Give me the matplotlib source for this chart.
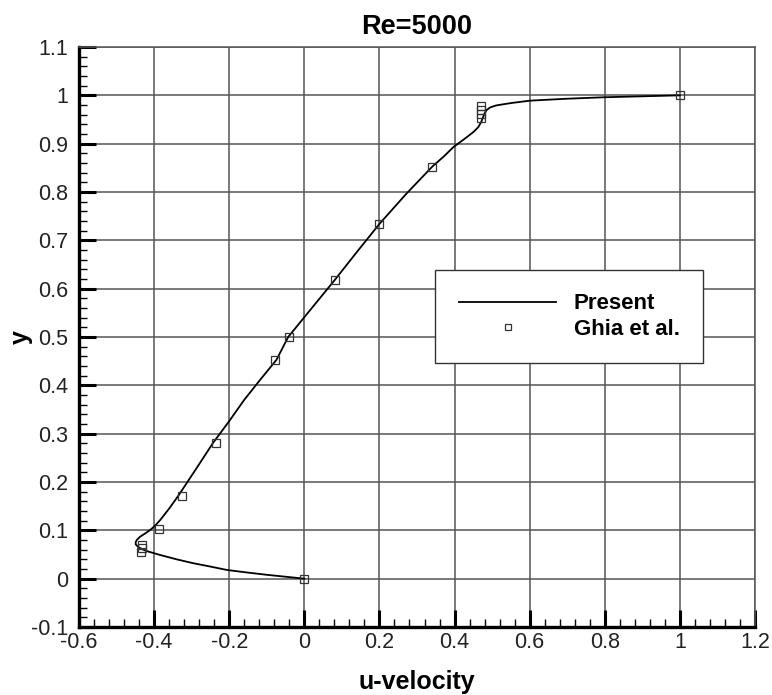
import matplotlib
matplotlib.use("Agg")
import matplotlib.pyplot as plt
from matplotlib.ticker import MultipleLocator, FuncFormatter

plt.rcParams['font.family'] = ['Liberation Sans', 'DejaVu Sans']

# Present solution
present_u = [0.0, -0.05, -0.10, -0.155, -0.206, -0.25, -0.296, -0.34, -0.384, -0.415,
             -0.432, -0.443, -0.449, -0.449, -0.445, -0.437, -0.425, -0.41, -0.397,
             -0.383, -0.36, -0.336, -0.29, -0.243, -0.20, -0.16, -0.117, -0.074, -0.043,
             0.02, 0.08, 0.14, 0.20, 0.27, 0.34, 0.372, 0.397, 0.425, 0.45, 0.463,
             0.471, 0.476, 0.480, 0.486, 0.495, 0.510, 0.55, 0.601, 0.70, 0.798, 0.90, 1.0]
present_y = [0.0, 0.004, 0.008, 0.013, 0.018, 0.025, 0.032, 0.040, 0.049, 0.056,
             0.061, 0.066, 0.071, 0.076, 0.081, 0.087, 0.093, 0.101, 0.110,
             0.122, 0.145, 0.171, 0.225, 0.281, 0.326, 0.37, 0.412, 0.453, 0.50,
             0.56, 0.617, 0.676, 0.734, 0.795, 0.852, 0.874, 0.893, 0.909, 0.924, 0.934,
             0.945, 0.955, 0.963, 0.970, 0.975, 0.979, 0.984, 0.989, 0.993, 0.996, 0.998, 1.0]

# Ghia et al. reference points
ghia_u = [1.0, 0.470, 0.470, 0.470, 0.470, 0.340, 0.200, 0.082, -0.040, -0.077,
          -0.235, -0.326, -0.387, -0.432, -0.432, -0.434, 0.0]
ghia_y = [1.0, 0.977, 0.969, 0.961, 0.953, 0.852, 0.734, 0.617, 0.500, 0.453,
          0.281, 0.172, 0.102, 0.070, 0.063, 0.055, 0.0]

title = "Re=5000"
xlabel = "u-velocity"
ylabel = "y"

fig = plt.figure(figsize=(7.72, 6.95), dpi=100)
ax = fig.add_axes([79/772, 1-627/695, 676/772, 580/695])

ax.plot(present_u, present_y, color='black', lw=1.3, label='Present', zorder=3,
        solid_joinstyle='round')
ax.plot(ghia_u, ghia_y, ls='none', marker='s', ms=5.5, mfc='none', mec='#333333',
        mew=0.9, label='Ghia et al.', zorder=4)

ax.set_xlim(-0.6, 1.2)
ax.set_ylim(-0.1, 1.1)
ax.xaxis.set_major_locator(MultipleLocator(0.2))
ax.xaxis.set_minor_locator(MultipleLocator(0.04))
ax.yaxis.set_major_locator(MultipleLocator(0.1))
ax.yaxis.set_minor_locator(MultipleLocator(0.02))

def fmt(v, pos):
    s = f"{v:.1f}"
    if s in ("0.0", "-0.0"):
        return "0"
    if s.endswith(".0"):
        s = s[:-2]
    return s
ax.xaxis.set_major_formatter(FuncFormatter(fmt))
ax.yaxis.set_major_formatter(FuncFormatter(fmt))

ax.grid(True, which='major', color='#555555', lw=1.1)
ax.set_axisbelow(True)

ax.tick_params(which='major', direction='in', length=12, width=2.2, labelsize=15.5,
               top=False, right=False, colors='black')
ax.tick_params(which='minor', direction='in', length=6, width=1.0,
               top=False, right=False)
ax.tick_params(axis='x', which='major', pad=3.5)
ax.tick_params(axis='y', which='major', pad=7.5)
for lbl in ax.get_xticklabels() + ax.get_yticklabels():
    lbl.set_color('#222222')

for s in ['left', 'bottom']:
    ax.spines[s].set_linewidth(2.4)
    ax.spines[s].set_color('black')
for s in ['top', 'right']:
    ax.spines[s].set_linewidth(1.1)
    ax.spines[s].set_color('#555555')

ax.set_title(title, fontsize=19.5, fontweight='bold', pad=9)
ax.set_xlabel(xlabel, fontsize=18, fontweight='bold')
ax.set_ylabel(ylabel, fontsize=18, fontweight='bold')
ax.xaxis.set_label_coords(0.5, -0.074)
ax.yaxis.set_label_coords(-0.068, 0.5)

leg = ax.legend(loc='center', bbox_to_anchor=(0.725, 0.535),
                prop={'weight': 'bold', 'size': 16}, frameon=True, fancybox=False,
                edgecolor='#333333', framealpha=1, handlelength=4.4, handletextpad=0.77,
                borderpad=1.05, labelspacing=0.2, markerscale=0.7)
leg.get_frame().set_linewidth(1.0)

fig.savefig("out.png", dpi=100)
